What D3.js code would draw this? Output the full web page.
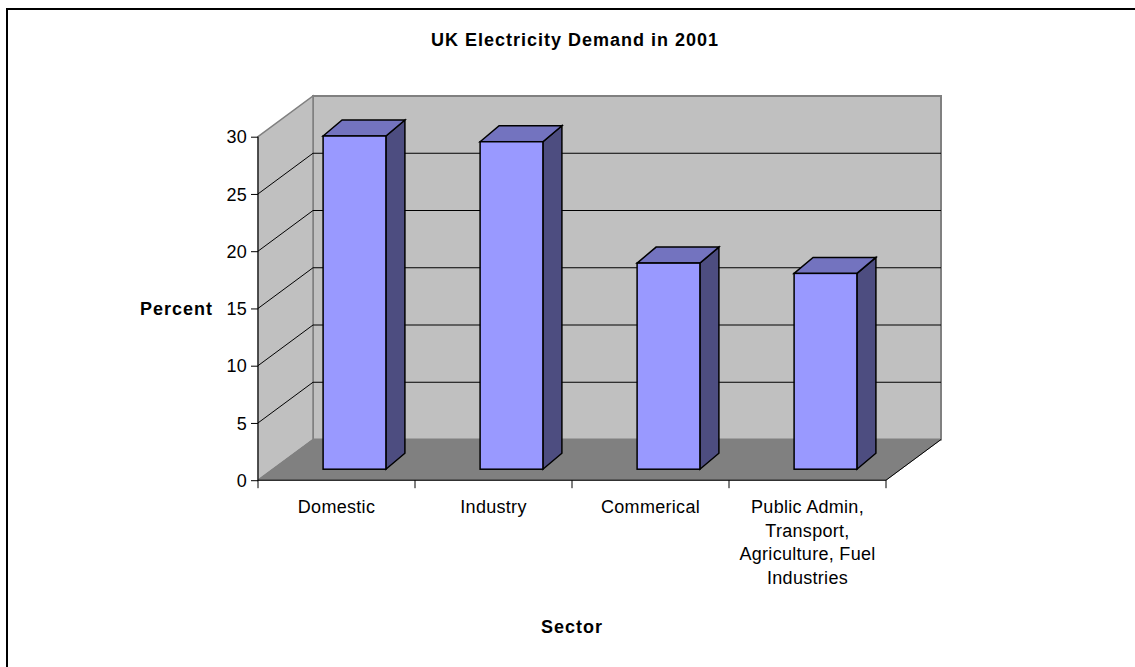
<!DOCTYPE html>
<html>
<head>
<meta charset="utf-8">
<script src="https://cdn.jsdelivr.net/npm/d3@7"></script>
<style>
  html, body { margin: 0; padding: 0; background: #fff; }
  svg { display: block; font-family: "Liberation Sans", Arial, sans-serif; }
</style>
</head>
<body>
<svg id="chart" width="1135" height="667"></svg>
<script>
// Sector shares of UK electricity demand, 2001 (percent)
const categories = [
  ["Domestic"],
  ["Industry"],
  ["Commerical"],
  ["Public Admin,", "Transport,", "Agriculture, Fuel", "Industries"]
];
const values = [29.1, 28.6, 18.0, 17.1];
const yTicks = [0, 5, 10, 15, 20, 25, 30];
const chartTitle = "UK Electricity Demand in 2001";
const yTitle = "Percent";
const xTitle = "Sector";

const svg = d3.select("#chart");

// Front plane of the 3-D box and its depth vector
const left = 258, right = 886;
const depth = { x: 55, y: -40.7 };
// Bars sit partway into the box; their own thickness along the depth vector
const barShift = { x: 18, y: -11 };
const barDepth = { x: 19, y: -16 };

const x = d3.scaleBand()
  .domain(d3.range(categories.length))
  .range([left, right])
  .paddingInner(0.6)
  .paddingOuter(0.3);
const step = x.step();

const y = d3.scaleLinear().domain([0, 30]).range([480.2, 136.7]);
const yBack = v => y(v) + depth.y;

// Outer frame
svg.append("rect")
  .attr("x", 7).attr("y", 9).attr("width", 1200).attr("height", 700)
  .attr("fill", "none").attr("stroke", "#000").attr("stroke-width", 2);

// Back wall
svg.append("rect")
  .attr("x", left + depth.x).attr("y", yBack(30))
  .attr("width", right - left).attr("height", yBack(0) - yBack(30))
  .attr("fill", "#c0c0c0").attr("stroke", "#808080").attr("stroke-width", 2);

// Side wall
svg.append("polygon")
  .attr("points", [
    [left, y(30)], [left + depth.x, yBack(30)],
    [left + depth.x, yBack(0)], [left, y(0)]
  ].map(p => p.join(",")).join(" "))
  .attr("fill", "#c0c0c0").attr("stroke", "#808080").attr("stroke-width", 1.5);

// Floor
svg.append("polygon")
  .attr("points", [
    [left, y(0)], [left + depth.x, yBack(0)],
    [right + depth.x, yBack(0)], [right, y(0)]
  ].map(p => p.join(",")).join(" "))
  .attr("fill", "#808080").attr("stroke", "#808080").attr("stroke-width", 1);

// Floor right edge
svg.append("line")
  .attr("x1", right).attr("y1", y(0))
  .attr("x2", right + depth.x).attr("y2", yBack(0))
  .attr("stroke", "#000").attr("stroke-width", 1);

// Gridlines on side and back walls
const grid = svg.append("g").attr("stroke", "#000").attr("stroke-width", 1).attr("fill", "none");
yTicks.filter(v => v > 0 && v < 30).forEach(v => {
  grid.append("polyline")
    .attr("points", [
      [left, y(v)], [left + depth.x, yBack(v)], [right + depth.x, yBack(v)]
    ].map(p => p.join(",")).join(" "));
});

// Axes
const yAxis = d3.axisLeft(y).tickValues(yTicks).tickSize(7).tickPadding(4);
const gy = svg.append("g").attr("transform", `translate(${left},0)`).call(yAxis);
gy.select(".domain").attr("stroke", "#000").attr("d", `M0,${y(30)}V${y(0)}`);
gy.selectAll(".tick line").attr("stroke", "#000");
gy.selectAll(".tick text")
  .attr("font-size", 18).attr("fill", "#000")
  .attr("font-family", "'Liberation Sans', Arial, sans-serif")
  .attr("dy", "0.34em").attr("letter-spacing", 0.3);

// Category boundary ticks along the front floor edge
const bounds = d3.range(categories.length + 1).map(i => left + i * step);
svg.append("line")
  .attr("x1", left).attr("x2", right).attr("y1", y(0)).attr("y2", y(0))
  .attr("stroke", "#000").attr("stroke-width", 1);
svg.append("g").selectAll("line").data(bounds).join("line")
  .attr("x1", d => d).attr("x2", d => d)
  .attr("y1", y(0)).attr("y2", y(0) + 8)
  .attr("stroke", "#000");

// Bars
const bars = svg.append("g").attr("stroke", "#000").attr("stroke-width", 1.5)
  .attr("stroke-linejoin", "miter");
values.forEach((v, i) => {
  const x1 = x(i) + barShift.x, x2 = x1 + x.bandwidth();
  const yt = y(v) + barShift.y, yb = y(0) + barShift.y;
  const dx = barDepth.x, dy = barDepth.y;
  const pts = a => a.map(p => p.join(",")).join(" ");
  bars.append("polygon").attr("fill", "#4d4d80")
    .attr("points", pts([[x2, yt], [x2 + dx, yt + dy], [x2 + dx, yb + dy], [x2, yb]]));
  bars.append("polygon").attr("fill", "#7373bf")
    .attr("points", pts([[x1, yt], [x1 + dx, yt + dy], [x2 + dx, yt + dy], [x2, yt]]));
  bars.append("rect").attr("fill", "#9999ff")
    .attr("x", x1).attr("y", yt).attr("width", x2 - x1).attr("height", yb - yt);
});

// Category labels
const catLabels = svg.append("g")
  .attr("font-size", 18).attr("text-anchor", "middle").attr("letter-spacing", 0.3);
categories.forEach((lines, i) => {
  const t = catLabels.append("text")
    .attr("x", left + (i + 0.5) * step).attr("y", 513);
  lines.forEach((ln, k) => {
    t.append("tspan").attr("x", left + (i + 0.5) * step)
      .attr("dy", k === 0 ? 0 : 23.5).text(ln);
  });
});

// Titles
svg.append("text")
  .attr("x", 575).attr("y", 45.7).attr("text-anchor", "middle")
  .attr("font-size", 18).attr("font-weight", "bold").attr("letter-spacing", 1)
  .text(chartTitle);
svg.append("text")
  .attr("x", 213).attr("y", 315).attr("text-anchor", "end")
  .attr("font-size", 18).attr("font-weight", "bold").attr("letter-spacing", 1)
  .text(yTitle);
svg.append("text")
  .attr("x", 572).attr("y", 633).attr("text-anchor", "middle")
  .attr("font-size", 18).attr("font-weight", "bold").attr("letter-spacing", 1)
  .text(xTitle);
</script>
</body>
</html>
